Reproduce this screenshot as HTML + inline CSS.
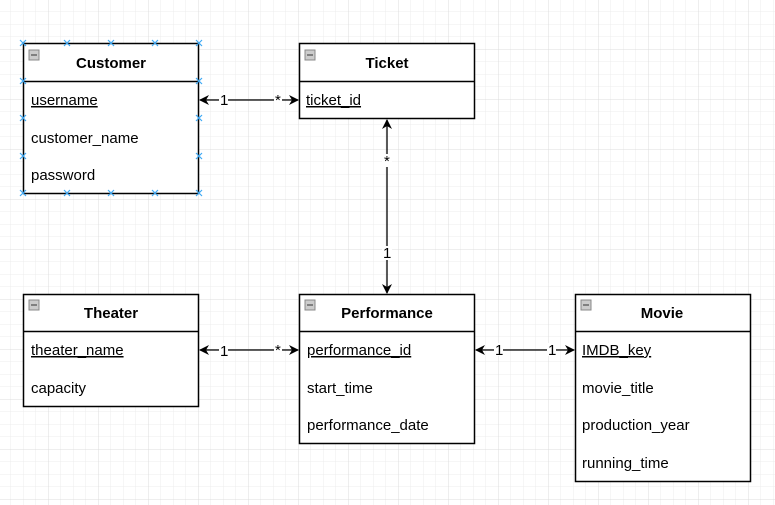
<!DOCTYPE html>
<html><head><style>
html,body{margin:0;padding:0;background:#fff}
svg{display:block}
text{font-family:"Liberation Sans",Arial,sans-serif;font-size:15px;fill:#000}
.h{font-weight:bold;text-anchor:middle}
</style></head><body>
<svg width="775" height="505" xmlns="http://www.w3.org/2000/svg">
<defs>
<pattern id="g" width="12.5" height="12.5" patternUnits="userSpaceOnUse" x="-1.5" y="-0.5">
<path d="M12.5 0V12.5H0" fill="none" stroke="#ececec" stroke-width="1"/>
</pattern>
<pattern id="G" width="50" height="50" patternUnits="userSpaceOnUse" x="-1.5" y="-0.5">
<path d="M50 0V50H0" fill="none" stroke="#dcdcdc" stroke-width="1"/>
</pattern>
<marker id="a" viewBox="0 0 10 10" refX="9" refY="5" markerWidth="10" markerHeight="10" orient="auto-start-reverse" markerUnits="userSpaceOnUse">
<path d="M0 0L10 5L0 10L3 5Z" fill="#000"/>
</marker>
<g id="min"><rect x="0" y="0" width="10" height="10" fill="#ccc" stroke="#888"/><line x1="2" y1="5" x2="8" y2="5" stroke="#333"/></g>
<g id="x"><path d="M-3 -3L3 3M-3 3L3 -3"/></g>
</defs>
<rect width="775" height="505" fill="url(#g)"/>
<rect width="775" height="505" fill="url(#G)"/>

<g stroke="#000" stroke-width="1.5" fill="#fff">
<rect x="23.5" y="43.5" width="175" height="150"/><line x1="23.5" y1="81.5" x2="198.5" y2="81.5"/>
<rect x="299.5" y="43.5" width="175" height="75"/><line x1="299.5" y1="81.5" x2="474.5" y2="81.5"/>
<rect x="23.5" y="294.5" width="175" height="112"/><line x1="23.5" y1="331.5" x2="198.5" y2="331.5"/>
<rect x="299.5" y="294.5" width="175" height="149"/><line x1="299.5" y1="331.5" x2="474.5" y2="331.5"/>
<rect x="575.5" y="294.5" width="175" height="187"/><line x1="575.5" y1="331.5" x2="750.5" y2="331.5"/>
</g>
<use href="#min" x="29" y="50"/><use href="#min" x="305" y="50"/><use href="#min" x="29" y="300"/><use href="#min" x="305" y="300"/><use href="#min" x="581" y="300"/>

<text class="h" x="111" y="68">Customer</text>
<text x="31" y="105" text-decoration="underline">username</text>
<text x="31" y="143">customer_name</text>
<text x="31" y="180">password</text>

<text class="h" x="387" y="68">Ticket</text>
<text x="306" y="105" text-decoration="underline">ticket_id</text>

<text class="h" x="111" y="318">Theater</text>
<text x="31" y="355" text-decoration="underline">theater_name</text>
<text x="31" y="393">capacity</text>

<text class="h" x="387" y="318">Performance</text>
<text x="307" y="355" text-decoration="underline">performance_id</text>
<text x="307" y="393">start_time</text>
<text x="307" y="430">performance_date</text>

<text class="h" x="662" y="318">Movie</text>
<text x="582" y="355" text-decoration="underline">IMDB_key</text>
<text x="582" y="393">movie_title</text>
<text x="582" y="430">production_year</text>
<text x="582" y="468">running_time</text>

<g stroke="#000" stroke-width="1.3" fill="none">
<line x1="200" y1="100" x2="298" y2="100" marker-start="url(#a)" marker-end="url(#a)"/>
<line x1="200" y1="350" x2="298" y2="350" marker-start="url(#a)" marker-end="url(#a)"/>
<line x1="476" y1="350" x2="574" y2="350" marker-start="url(#a)" marker-end="url(#a)"/>
<line x1="387" y1="120" x2="387" y2="293" marker-start="url(#a)" marker-end="url(#a)"/>
</g>
<g>
<rect x="219" y="93" width="9" height="13" fill="#fff"/><text x="220" y="105" font-size="12">1</text>
<rect x="274" y="93" width="8" height="13" fill="#fff"/><text x="275" y="105" font-size="12">*</text>
<rect x="219" y="343" width="9" height="13" fill="#fff"/><text x="220" y="356" font-size="12">1</text>
<rect x="274" y="343" width="8" height="13" fill="#fff"/><text x="275" y="355" font-size="12">*</text>
<rect x="494" y="343" width="9" height="13" fill="#fff"/><text x="495" y="355" font-size="12">1</text>
<rect x="547" y="343" width="9" height="13" fill="#fff"/><text x="548" y="355" font-size="12">1</text>
<rect x="382" y="154" width="10" height="13" fill="#fff"/><text x="384" y="166" font-size="12">*</text>
<rect x="382" y="246" width="10" height="14" fill="#fff"/><text x="383" y="258" font-size="12">1</text>
</g>

<g stroke="#3fa9f5" stroke-width="1.2">
<use href="#x" x="23" y="43"/><use href="#x" x="67" y="43"/><use href="#x" x="111" y="43"/><use href="#x" x="155" y="43"/><use href="#x" x="199" y="43"/>
<use href="#x" x="23" y="193"/><use href="#x" x="67" y="193"/><use href="#x" x="111" y="193"/><use href="#x" x="155" y="193"/><use href="#x" x="199" y="193"/>
<use href="#x" x="23" y="81"/><use href="#x" x="23" y="118"/><use href="#x" x="23" y="156"/>
<use href="#x" x="199" y="81"/><use href="#x" x="199" y="118"/><use href="#x" x="199" y="156"/>
</g>
</svg>
</body></html>
